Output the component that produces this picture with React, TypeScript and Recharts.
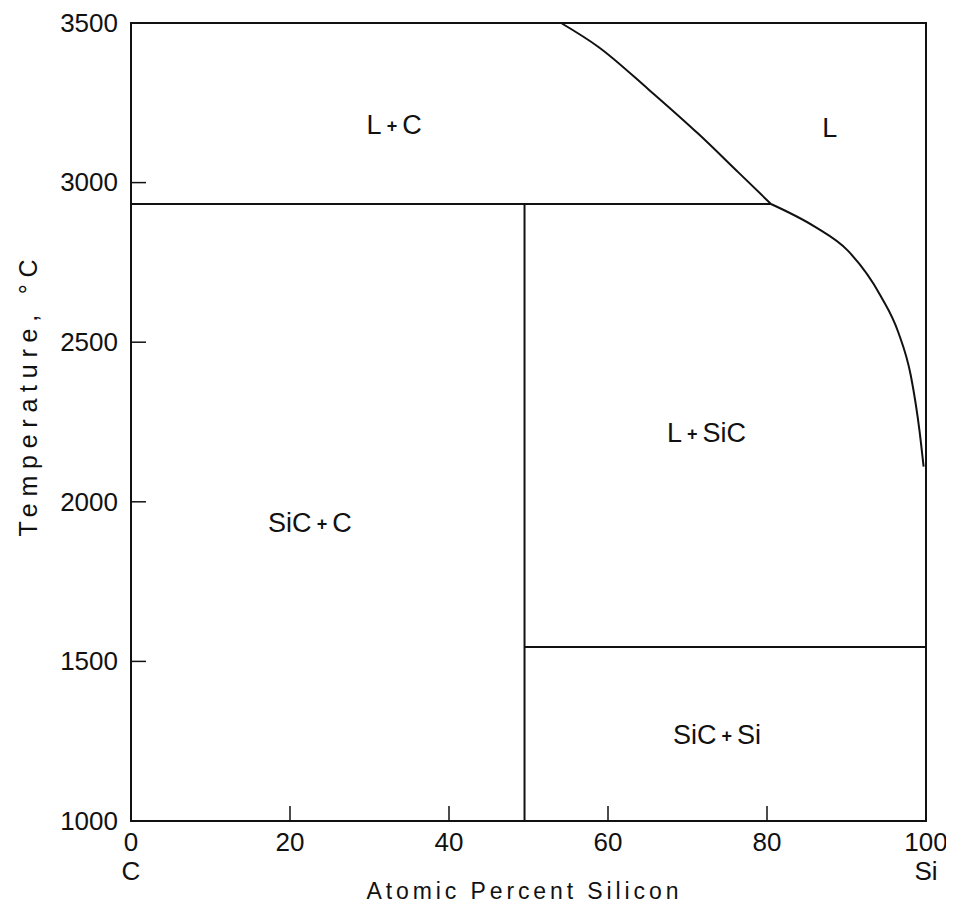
import React from 'react';
import {
  ComposedChart,
  Line,
  Scatter,
  XAxis,
  YAxis,
  ReferenceArea,
} from 'recharts';

// axis ticks
const xTicks = [0, 20, 40, 60, 80, 100];
const yTicks = [1000, 1500, 2000, 2500, 3000, 3500];
const xEndLabels: Record<number, string> = { 0: 'C', 100: 'Si' };

// phase boundaries (x = at.% Si, t = temperature °C)
const peritectic = [
  { x: 0, t: 2933 },
  { x: 80.5, t: 2933 },
];
const sicLine = [
  { x: 49.5, t: 1000 },
  { x: 49.5, t: 2933 },
];
const eutectic = [
  { x: 49.5, t: 1545 },
  { x: 100, t: 1545 },
];
const liquidusHigh = [
  { x: 54.1, t: 3500 },
  { x: 58.8, t: 3425 },
  { x: 65.1, t: 3292 },
  { x: 71.4, t: 3152 },
  { x: 76.4, t: 3032 },
  { x: 80.5, t: 2933 },
];
const liquidusLow = [
  { x: 80.5, t: 2933 },
  { x: 86, t: 2862 },
  { x: 90.2, t: 2786 },
  { x: 94.3, t: 2645 },
  { x: 96.5, t: 2532 },
  { x: 98.1, t: 2394 },
  { x: 99.2, t: 2219 },
  { x: 99.7, t: 2110 },
];

// region labels
const regions = [
  { x: 33.1, t: 3174, a: 'L', b: 'C' },
  { x: 87.9, t: 3165, a: 'L', b: '' },
  { x: 72.4, t: 2209, a: 'L', b: 'SiC' },
  { x: 22.5, t: 1927, a: 'SiC', b: 'C' },
  { x: 73.7, t: 1263, a: 'SiC', b: 'Si' },
];

const FONT = '"Liberation Sans", Arial, sans-serif';
const INK = '#111';

const XTick = ({ x, y, payload }: any) => {
  const v = payload.value;
  const inner = v !== 0 && v !== 100;
  return (
    <g>
      {inner && <line x1={x} y1={y} x2={x} y2={y - 15} stroke={INK} strokeWidth={1.5} />}
      <text x={x} y={y + 23} textAnchor="middle" dominantBaseline="middle" fontSize={26} fontFamily={FONT} fill={INK}>
        {v}
      </text>
      {xEndLabels[v] && (
        <text x={x} y={y + 52} textAnchor="middle" dominantBaseline="middle" fontSize={26} fontFamily={FONT} fill={INK}>
          {xEndLabels[v]}
        </text>
      )}
    </g>
  );
};

const YTick = ({ x, y, payload }: any) => {
  const v = payload.value;
  const inner = v !== 1000 && v !== 3500;
  return (
    <g>
      {inner && <line x1={x} y1={y} x2={x + 15} y2={y} stroke={INK} strokeWidth={1.5} />}
      <text x={x - 13} y={y + 2} textAnchor="end" dominantBaseline="middle" fontSize={26} fontFamily={FONT} fill={INK}>
        {v}
      </text>
    </g>
  );
};

// axis titles: the lettering in the original is widely spaced
const XTitle = ({ viewBox }: any) => {
  const vb = viewBox || { x: 131, y: 821, width: 795, height: 83 };
  return (
    <text
      x={vb.x + vb.width / 2 - 6}
      y={vb.y + 78}
      textAnchor="middle"
      fontSize={23}
      fontFamily={FONT}
      fill={INK}
      textLength={312}
      lengthAdjust="spacing"
    >
      Atomic Percent Silicon
    </text>
  );
};

const YTitle = ({ viewBox }: any) => {
  const vb = viewBox || { x: 0, y: 23, width: 131, height: 798 };
  const cx = vb.x + 28;
  const cy = vb.y + vb.height / 2 - 24;
  return (
    <text
      x={cx}
      y={cy}
      transform={`rotate(-90, ${cx}, ${cy})`}
      textAnchor="middle"
      dominantBaseline="central"
      fontSize={25}
      fontFamily={FONT}
      fill={INK}
      textLength={277}
      lengthAdjust="spacing"
    >
      Temperature, °C
    </text>
  );
};

const RegionLabel = ({ cx, cy, payload }: any) => (
  <text x={cx} y={cy} textAnchor="middle" dominantBaseline="middle" fontSize={27} fontFamily={FONT} fill={INK}>
    {payload.a}
    {payload.b && (
      <>
        <tspan fontSize={18} fontWeight="bold" dx={5}>+</tspan>
        <tspan dx={5}>{payload.b}</tspan>
      </>
    )}
  </text>
);

const boundary = (data: { x: number; t: number }[], key: string, type: any = 'linear') => (
  <Line
    key={key}
    data={data}
    dataKey="t"
    type={type}
    stroke={INK}
    strokeWidth={2}
    dot={false}
    activeDot={false}
    isAnimationActive={false}
  />
);

export default function App() {
  return (
    <div style={{ marginTop: -8, marginLeft: -8, width: 954, height: 904, background: '#fff' }}>
      <ComposedChart width={954} height={904} margin={{ top: 23, right: 28, left: 0, bottom: 0 }}>
        <XAxis
          dataKey="x"
          type="number"
          domain={[0, 100]}
          ticks={xTicks}
          interval={0}
          axisLine={false}
          tickLine={false}
          tickSize={0}
          tickMargin={0}
          height={83}
          tick={<XTick />}
          label={<XTitle />}
        />
        <YAxis
          type="number"
          domain={[1000, 3500]}
          ticks={yTicks}
          interval={0}
          axisLine={false}
          tickLine={false}
          tickSize={0}
          tickMargin={0}
          width={131}
          tick={<YTick />}
          label={<YTitle />}
        />
        <ReferenceArea x1={0} x2={100} y1={1000} y2={3500} fill="none" stroke={INK} strokeWidth={2} ifOverflow="visible" />
        {boundary(peritectic, 'peritectic')}
        {boundary(sicLine, 'sic')}
        {boundary(eutectic, 'eutectic')}
        {boundary(liquidusHigh, 'liqHigh', 'monotone')}
        {boundary(liquidusLow, 'liqLow', 'monotone')}
        <Scatter data={regions} dataKey="t" shape={<RegionLabel />} isAnimationActive={false} />
      </ComposedChart>
    </div>
  );
}
